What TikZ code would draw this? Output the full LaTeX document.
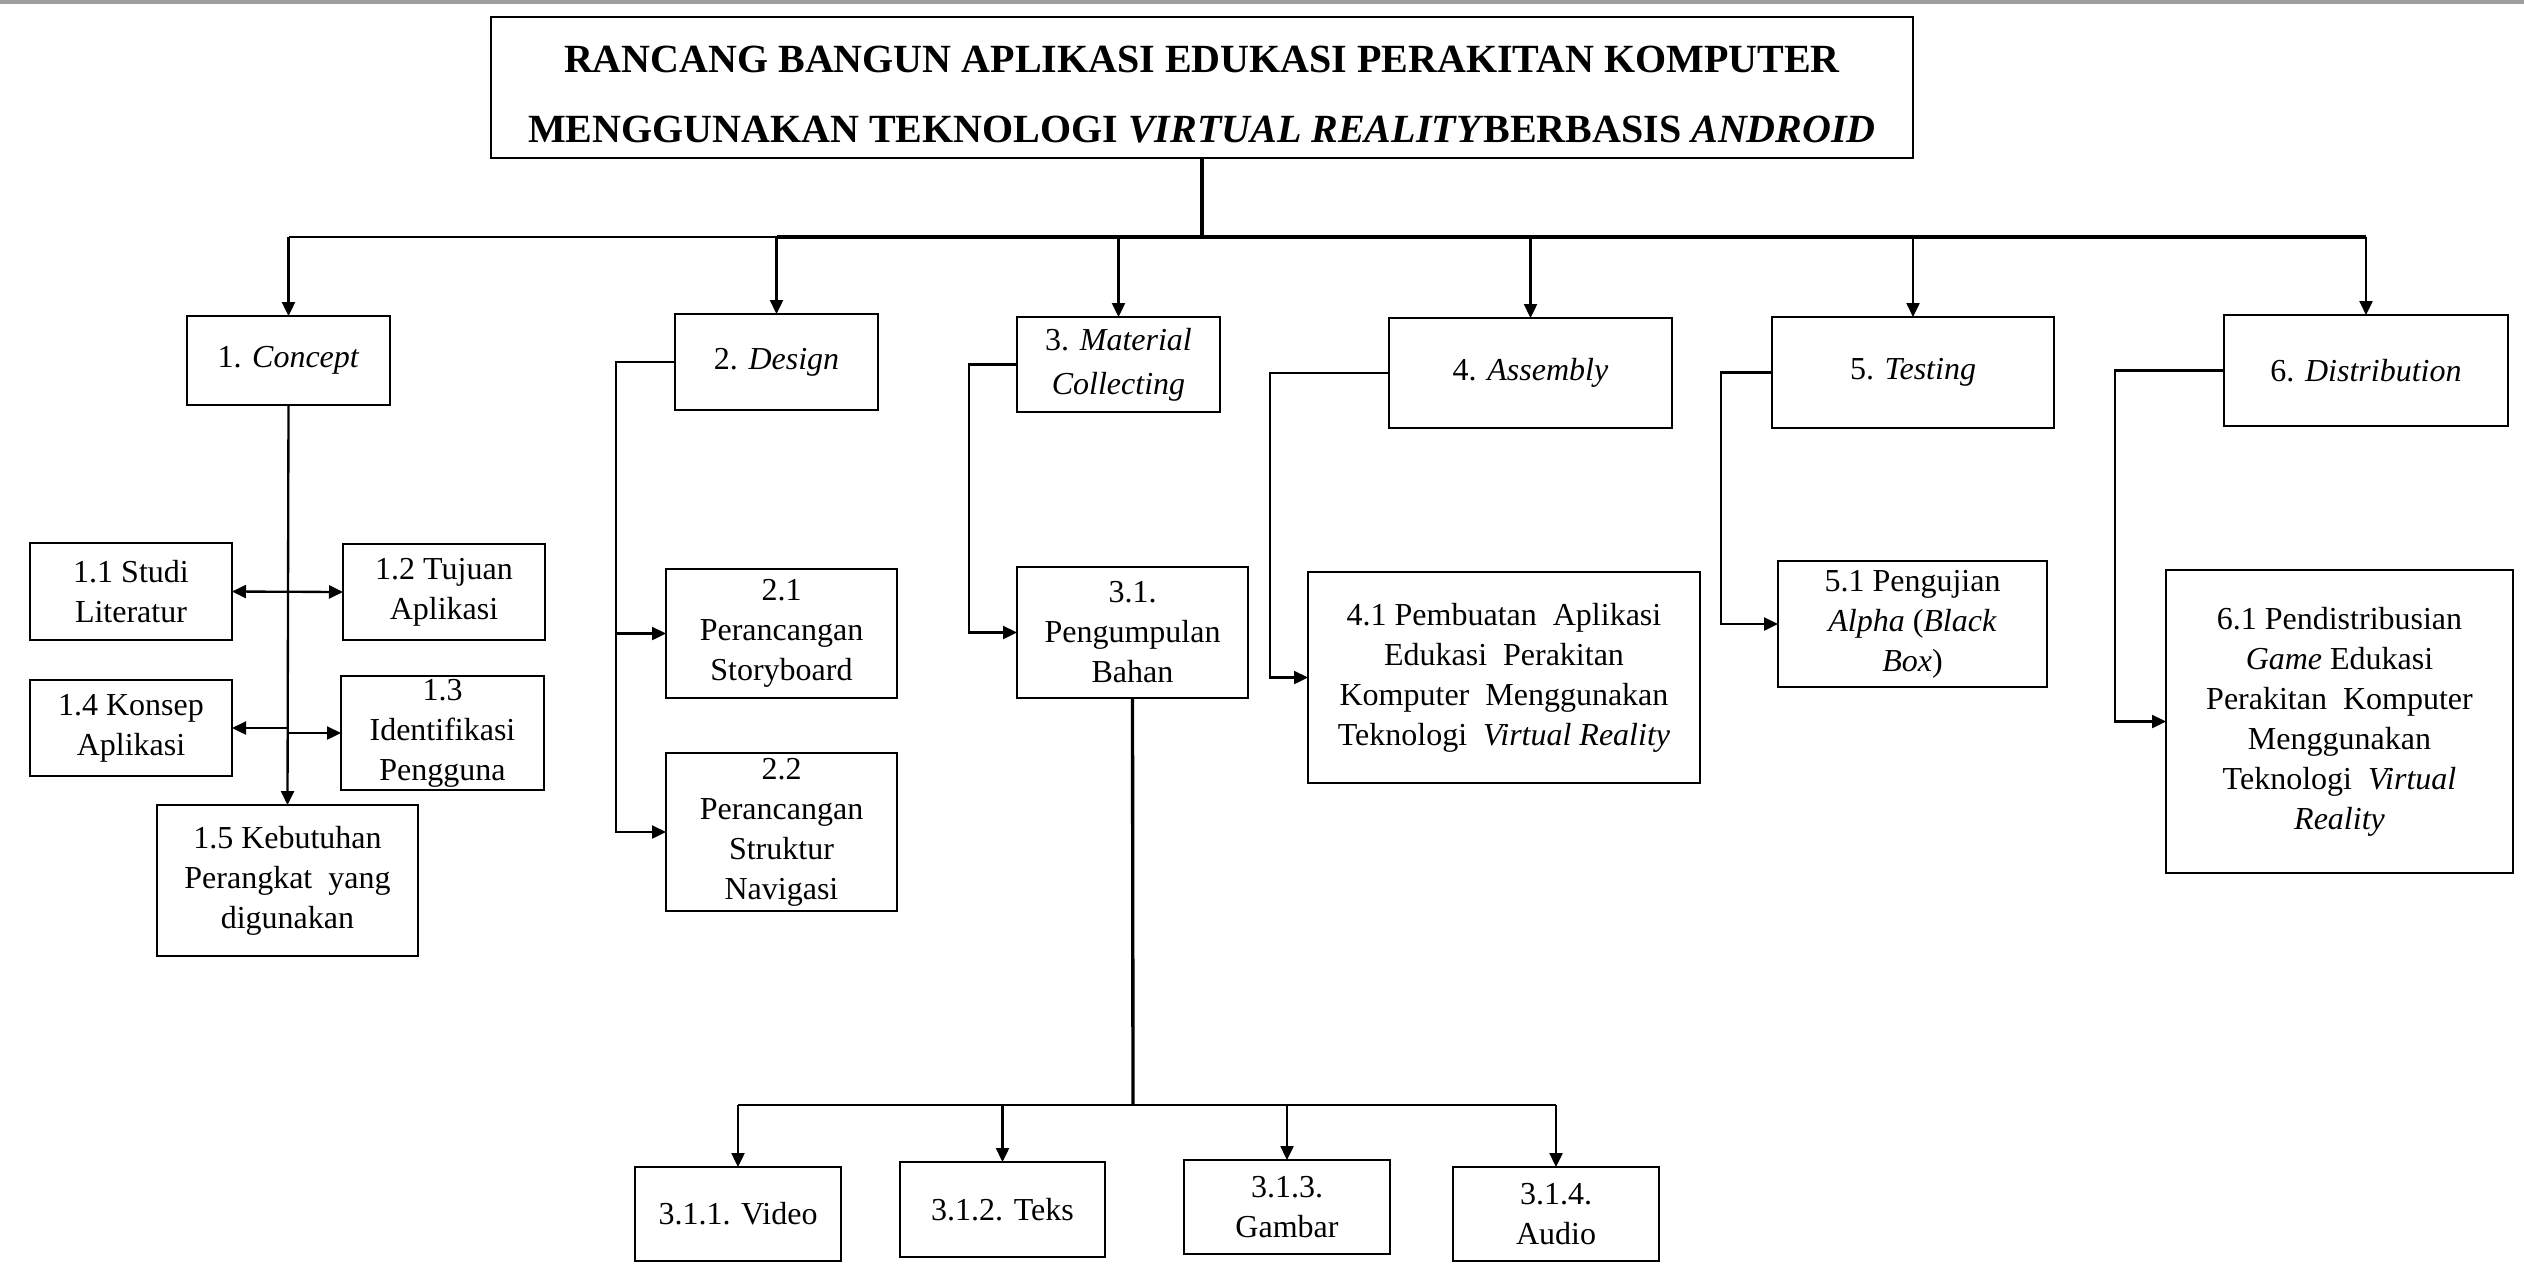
\documentclass[tikz,border=0pt]{standalone}
\usepackage{fontspec}
\setmainfont{Liberation Serif}
\usetikzlibrary{arrows.meta,calc}
\newcommand\bxnode[6][]{%
  \pgfmathsetmacro\bxcx{(#3+#5)/2}%
  \pgfmathsetmacro\bxcy{(#4+#6)/2}%
  \pgfmathsetmacro\bxw{(#5-#3)*0.3}%
  \pgfmathsetmacro\bxh{(#6-#4)*0.3}%
  \node[bx, minimum width=\bxw pt, minimum height=\bxh pt, #1] (#2) at (\bxcx,\bxcy)}
\begin{document}
\begin{tikzpicture}[x=0.3pt,y=-0.3pt]
\tikzset{
  bx/.style={draw, line width=0.7pt, inner sep=0pt, outer sep=0pt, align=center, font=\fontsize{9.6}{12}\selectfont},
  ln/.style={line width=0.7pt},
  arr/.style={-{Triangle[length=4.2pt,width=3.9pt]}},
  darr/.style={{Triangle[length=4.2pt,width=3.9pt]}-{Triangle[length=4.2pt,width=3.9pt]}},
}
\useasboundingbox (0,0) rectangle (2524,1282);
\fill[gray!75] (0,0) rectangle (2524,4);

% title
\bxnode[line width=0.8pt, font=\fontsize{12}{21}\selectfont\bfseries]{t}{491}{17}{1913}{158}
  {\rule{0pt}{12pt}RANCANG BANGUN APLIKASI EDUKASI PERAKITAN KOMPUTER\\MENGGUNAKAN TEKNOLOGI \textit{VIRTUAL REALITY}BERBASIS \textit{ANDROID}};

% level 1
\bxnode{c1}{187}{316}{390}{405}{1. \textit{Concept}};
\bxnode{c2}{675}{314}{878}{410}{2. \textit{Design}};
\bxnode[font=\fontsize{9.6}{13.2}\selectfont]{c3}{1017}{317}{1220}{412}{3. \textit{Material}\\\textit{Collecting}};
\bxnode{c4}{1389}{318}{1672}{428}{4. \textit{Assembly}};
\bxnode{c5}{1772}{317}{2054}{428}{5. \textit{Testing}};
\bxnode{c6}{2224}{315}{2508}{426}{6. \textit{Distribution}};

% concept children
\bxnode{c11}{30}{543}{232}{640}{1.1 Studi\\Literatur};
\bxnode{c12}{343}{544}{545}{640}{1.2 Tujuan\\Aplikasi};
\bxnode{c14}{30}{680}{232}{776}{1.4 Konsep\\Aplikasi};
\bxnode{c13}{341}{676}{544}{790}{1.3\\Identifikasi\\Pengguna};
\bxnode{c15}{157}{805}{418}{956}{1.5 Kebutuhan\\Perangkat\ \ yang\\digunakan};

% design children
\bxnode{c21}{666}{569}{897}{698}{2.1\\Perancangan\\Storyboard};
\bxnode{c22}{666}{753}{897}{911}{2.2\\Perancangan\\Struktur\\Navigasi};

% material children
\bxnode{c31}{1017}{567}{1248}{698}{3.1.\\Pengumpulan\\Bahan};
\bxnode{v1}{635}{1167}{841}{1261}{3.1.1. Video};
\bxnode{v2}{900}{1162}{1105}{1257}{3.1.2. Teks};
\bxnode{v3}{1184}{1160}{1390}{1254}{3.1.3.\\Gambar};
\bxnode{v4}{1453}{1167}{1659}{1261}{3.1.4.\\Audio};

% other children
\bxnode{c41}{1308}{572}{1700}{783}{4.1 Pembuatan\ \ Aplikasi\\Edukasi\ \ Perakitan\\Komputer\ \ Menggunakan\\Teknologi\ \ \textit{Virtual Reality}};
\bxnode{c51}{1778}{561}{2047}{687}{5.1 Pengujian\\\textit{Alpha} (\textit{Black}\\\textit{Box})};
\bxnode{c61}{2166}{570}{2513}{873}{6.1 Pendistribusian\\\textit{Game} Edukasi\\Perakitan\ \ Komputer\\Menggunakan\\Teknologi\ \ \textit{Virtual}\\\textit{Reality}};

% helper coordinates
\coordinate (bus) at (1202,237);
\coordinate (bus2) at (1133,1105);
\coordinate (dx) at (616,0);
\coordinate (mx) at (969,0);
\coordinate (ax) at (1270,0);
\coordinate (tx) at (1721,0);
\coordinate (sx) at (2115,0);

% top tree
\draw[line width=1.2pt] (t.south) -- (bus);
\draw[ln] (c1.north |- bus) -- (c2.north |- bus);
\draw[line width=1.2pt] (c2.north |- bus) -- (c6.north |- bus);
\foreach \n in {c1,c2,c3,c4,c5,c6} \draw[ln,arr] (\n.north |- bus) -- (\n.north);

% concept
\draw[ln,arr] (c1.south) -- (c15.north);
\draw[ln,darr] (c11.east) -- (c12.west);
\draw[ln,arr] (c1.south |- c14.east) -- (c14.east);
\draw[ln,arr] (c1.south |- c13.west) -- (c13.west);

% design
\draw[ln,arr] (c2.west) -- (dx |- c2.west) |- (c22.west);
\draw[ln,arr] (dx |- c21.west) -- (c21.west);

% material
\draw[ln,arr] (c3.west) -- (mx |- c3.west) |- (c31.west);
\draw[line width=1pt] (c31.south) -- (bus2);
\draw[ln] (v1.north |- bus2) -- (v4.north |- bus2);
\foreach \n in {v1,v2,v3,v4} \draw[ln,arr] (\n.north |- bus2) -- (\n.north);

% assembly, testing, distribution
\draw[ln,arr] (c4.west) -- (ax |- c4.west) |- (c41.west);
\draw[ln,arr] (c5.west) -- (tx |- c5.west) |- (c51.west);
\draw[ln,arr] (c6.west) -- (sx |- c6.west) |- (c61.west);
\end{tikzpicture}
\end{document}
